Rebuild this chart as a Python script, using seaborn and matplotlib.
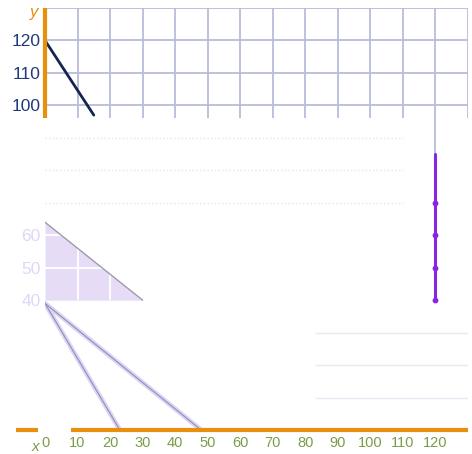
import numpy as np
import matplotlib
matplotlib.use("Agg")
import matplotlib.pyplot as plt
import seaborn as sns

# values
x_ticks = [0, 10, 20, 30, 40, 50, 60, 70, 80, 90, 100, 110, 120]
y_ticks_dark = [100, 110, 120]
y_ticks_light = [40, 50, 60]
grid_vals = [0, 10, 20, 30, 40, 50, 60, 70, 80, 90, 100, 110, 120, 130]

line1_x = [0, 15]
line1_y = [120, 97]

region_x = [0, 30]
region_top = [64, 40]
region_bottom = [40, 40]

line2_x = [0, 23]
line2_y = [39, 0]
line3_x = [0, 48]
line3_y = [39, 0]

purple_x = [120, 120, 120, 120, 120]
purple_y = [40, 50, 60, 70, 85]
purple_marks = [40, 50, 60, 70]

sns.set_theme(style="white")
plt.rcParams['font.family'] = ['Liberation Sans', 'DejaVu Sans']

grid_col = '#b9bcda'
orange = '#e8900c'
navy = '#1f3a78'

fig = plt.figure(figsize=(4.72, 4.54), dpi=100)
ax = fig.add_axes([45 / 472, 24 / 454, 423 / 472, 422 / 454])
ax.set_xlim(0, 130)
ax.set_ylim(0, 130)
for s in ax.spines.values():
    s.set_visible(False)

# grid, only the top band survives in the picture
ax.vlines(grid_vals, 96, 130, color=grid_col, lw=1.3, zorder=1)
ax.hlines([100, 110, 120, 130], 0, 130, color=grid_col, lw=1.3, zorder=1)
# faint remains lower down
ax.hlines([70, 80, 90], 0, 110, color='#e4e4f2', lw=1, ls=':', zorder=1)
ax.hlines([10, 20, 30], 83, 130, color='#e8e8f2', lw=1, zorder=1)

# shaded region
ax.fill_between(region_x, region_bottom, region_top, color='#e6dcf6', lw=0, zorder=2)
ax.vlines([10, 20], 40, 60, color='white', lw=1.3, zorder=2)
ax.hlines([50, 60], 0, 30, color='white', lw=1.3, zorder=2)
sns.lineplot(x=region_x, y=region_top, ax=ax, color='#9c9ca8', lw=1, zorder=3)

# lines
sns.lineplot(x=line1_x, y=line1_y, ax=ax, color='#142650', lw=2, zorder=4)
for lx, ly in [(line2_x, line2_y), (line3_x, line3_y)]:
    sns.lineplot(x=lx, y=ly, ax=ax, color='#dcd4f6', lw=3.5, zorder=3)
    sns.lineplot(x=lx, y=ly, ax=ax, color='#8e8eb4', lw=0.8, zorder=4)

ax.vlines(120, 85, 96, color=grid_col, lw=1.3, zorder=1)
sns.lineplot(x=purple_x, y=purple_y, ax=ax, color='#8a24e2', lw=2.2, zorder=4,
             estimator=None, sort=False)
ax.scatter([120] * len(purple_marks), purple_marks, color='#8a24e2', s=10, zorder=5)

# orange axes
ax.plot([0, 0], [96, 130], color=orange, lw=3, solid_capstyle='butt', clip_on=False, zorder=6)
ax.plot([-9, -2], [0, 0], color=orange, lw=3, solid_capstyle='butt', clip_on=False, zorder=6)
ax.plot([8, 130], [0, 0], color=orange, lw=3, solid_capstyle='butt', clip_on=False, zorder=6)

ax.set_xticks(x_ticks)
ax.set_xticklabels([str(v) for v in x_ticks], color='#7a9c48', fontsize=10.5)
ax.set_yticks(y_ticks_light + y_ticks_dark)
ax.set_yticklabels([str(v) for v in y_ticks_light + y_ticks_dark], fontsize=12.5)
for lab in ax.get_yticklabels():
    lab.set_color(navy if int(lab.get_text()) >= 100 else '#e0d6f6')
ax.tick_params(axis='y', length=0, pad=3)
ax.tick_params(axis='x', length=0, pad=4)

ax.text(-2.2, 128.5, 'y', color=orange, fontsize=12, style='italic', ha='right', va='center')
ax.text(-3.0, -3.2, 'x', color='#7a9c48', fontsize=11, style='italic', ha='center', va='top')

fig.savefig('out.png', dpi=100)
